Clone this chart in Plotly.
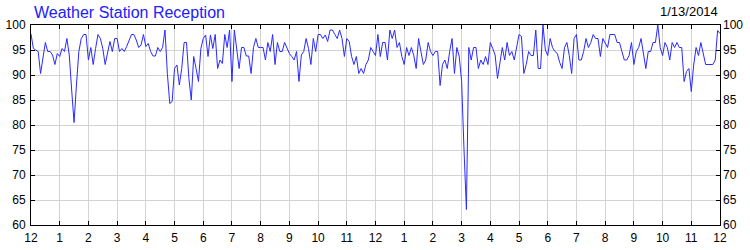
import plotly.graph_objects as go
import pandas as pd

title_text = "Weather Station Reception"
date_text = "1/13/2014"
start_time = "2014-01-13 00:00"
interval = "5min"

reception = [
    98.2, 95.3, 95.0, 94.7, 90.3, 93.3, 96.5, 94.7, 94.7, 94.0, 92.1, 94.3,
    93.7, 95.3, 94.7, 97.3, 94.0, 87.0, 80.5, 88.0, 94.7, 97.3, 98.1, 98.1,
    93.0, 95.5, 92.1, 95.3, 98.1, 97.3, 95.3, 92.1, 94.7, 96.7, 94.7, 97.3,
    97.3, 94.7, 95.3, 94.7, 95.7, 97.0, 98.1, 98.1, 97.0, 95.5, 96.0, 98.1,
    95.7, 96.3, 94.7, 93.8, 93.8, 95.5, 94.7, 95.5, 99.0, 90.3, 84.3, 84.7,
    91.3, 92.0, 88.0, 91.3, 96.5, 96.5, 89.3, 85.0, 93.7, 91.3, 88.7, 95.3,
    97.3, 98.0, 93.7, 98.0, 95.3, 98.1, 91.3, 93.0, 92.3, 98.1, 95.5, 99.0,
    88.7, 99.0, 95.3, 91.3, 95.5, 95.5, 93.8, 93.8, 90.3, 95.5, 97.3, 95.5,
    95.5, 95.5, 93.0, 96.5, 94.7, 98.1, 92.1, 96.5, 94.7, 94.7, 96.5, 95.3,
    94.3, 93.7, 93.0, 94.7, 88.7, 94.0, 94.7, 97.3, 95.3, 92.1, 97.3, 94.7,
    98.1, 98.1, 97.3, 98.0, 96.7, 99.0, 99.0, 98.1, 97.3, 99.0, 97.3, 93.7,
    97.3, 96.7, 93.7, 92.1, 93.7, 90.3, 91.3, 90.3, 92.1, 93.0, 95.5, 94.7,
    93.9, 98.1, 93.7, 96.5, 96.5, 93.0, 99.0, 97.3, 99.0, 95.5, 96.5, 93.7,
    92.1, 95.5, 93.9, 95.5, 93.9, 91.3, 97.3, 94.7, 92.1, 93.0, 96.5, 94.7,
    93.9, 94.7, 94.7, 87.9, 92.1, 93.0, 91.3, 94.7, 97.3, 90.3, 95.5, 93.7,
    88.7, 75.0, 63.1, 95.5, 93.0, 95.5, 95.5, 91.3, 93.0, 92.1, 93.7, 92.1,
    96.5, 95.3, 94.0, 89.3, 92.0, 95.5, 93.0, 96.5, 93.9, 94.7, 93.0, 95.5,
    98.1, 97.7, 90.3, 92.1, 94.7, 93.9, 93.9, 99.0, 91.3, 91.3, 100.0, 95.0,
    93.9, 97.3, 95.5, 94.7, 94.3, 92.5, 91.3, 95.5, 96.5, 93.9, 90.3, 97.3,
    98.1, 93.0, 93.0, 94.7, 97.3, 95.5, 96.5, 98.1, 97.3, 97.3, 93.7, 97.3,
    96.5, 95.5, 98.1, 98.1, 98.1, 96.5, 96.5, 94.7, 93.0, 93.0, 93.9, 96.5,
    92.1, 94.7, 95.5, 97.3, 93.9, 91.3, 94.7, 94.7, 96.5, 96.5, 100.0, 95.5,
    93.9, 96.5, 95.5, 93.0, 96.5, 95.5, 96.5, 95.5, 95.5, 88.7, 90.7, 91.3,
    86.7, 92.0, 95.5, 93.9, 96.5, 93.9, 92.1, 92.1, 92.1, 92.1, 93.0, 98.9,
    98.3,
]
y_ticks = [60, 65, 70, 75, 80, 85, 90, 95, 100]

times = pd.date_range(start_time, periods=len(reception), freq=interval)
x_start = times[0]
x_end = times[0] + pd.Timedelta(hours=24)

font_family = "Liberation Sans, Arial, sans-serif"

fig = go.Figure()
fig.add_trace(go.Scatter(
    x=times, y=reception, mode="lines",
    line=dict(color="#2a2aff", width=1),
    hoverinfo="skip", showlegend=False,
))
fig.add_trace(go.Scatter(
    x=times, y=reception, mode="lines", yaxis="y2",
    line=dict(color="rgba(0,0,0,0)", width=1),
    hoverinfo="skip", showlegend=False,
))

fig.update_layout(
    width=750, height=250,
    margin=dict(l=31, r=30, t=25, b=25, pad=0, autoexpand=False),
    paper_bgcolor="white", plot_bgcolor="white",
    font=dict(family=font_family, size=12, color="#000"),
    xaxis=dict(
        type="date", range=[x_start, x_end], automargin=False,
        dtick=3600000, tick0=x_start, tickformat="%-I",
        showgrid=True, gridcolor="#d3d3d3", gridwidth=1,
        showline=True, linecolor="#000", linewidth=1,
        ticks="inside", ticklen=4, tickcolor="#000",
        mirror="ticks", zeroline=False,
        tickfont=dict(size=12, color="#000"),
        ticklabelstandoff=2,
    ),
    yaxis=dict(
        range=[60, 100], tickvals=y_ticks, automargin=False,
        showgrid=True, gridcolor="#d3d3d3", gridwidth=1,
        showline=True, linecolor="#000", linewidth=1,
        ticks="inside", ticklen=4, tickcolor="#000",
        mirror="ticks", zeroline=False,
        tickfont=dict(size=12, color="#000"),
        ticklabelstandoff=2,
    ),
    yaxis2=dict(
        range=[60, 100], tickvals=y_ticks, overlaying="y", side="right",
        automargin=False,
        showgrid=False, showline=False, ticks="", zeroline=False,
        tickfont=dict(size=12, color="#000"),
        ticklabelstandoff=2,
    ),
    annotations=[
        dict(text=title_text, xref="paper", yref="paper", x=0, y=1,
             xanchor="left", yanchor="bottom", xshift=1, yshift=2, showarrow=False,
             font=dict(size=16, color="#2020ff", family=font_family)),
        dict(text=date_text, xref="paper", yref="paper", x=1, y=1,
             xanchor="right", yanchor="bottom", xshift=0, yshift=4, showarrow=False,
             font=dict(size=13, color="#000", family=font_family)),
    ],
)

fig.write_html("out.html")
